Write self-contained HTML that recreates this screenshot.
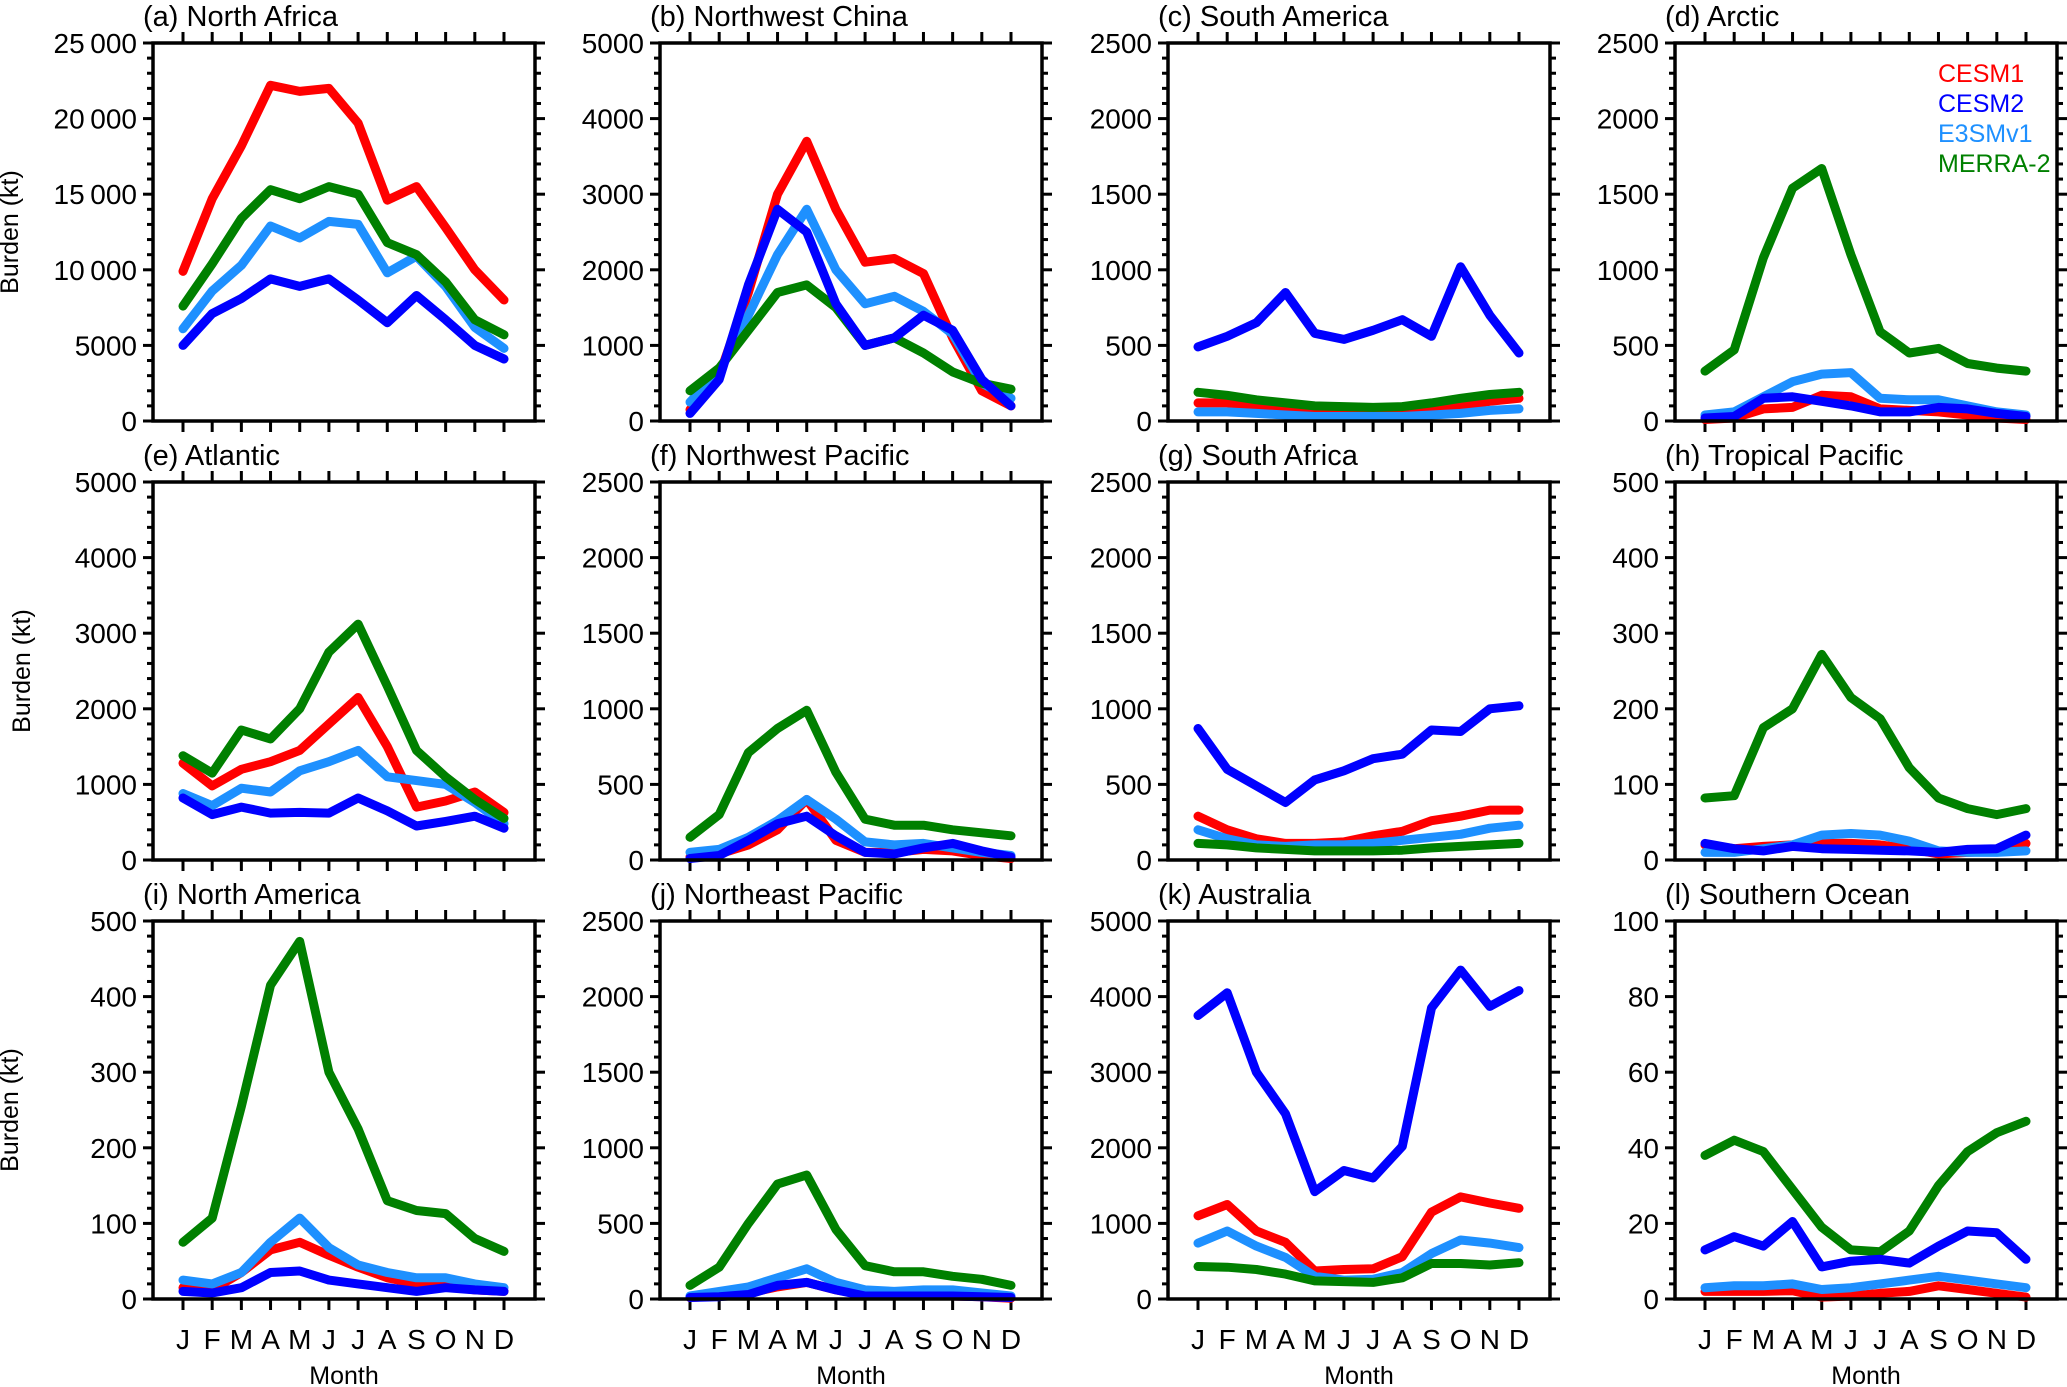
<!DOCTYPE html>
<html><head><meta charset="utf-8">
<style>
html,body{margin:0;padding:0;background:#fff;}
svg{display:block;font-family:"Liberation Sans",Arial,sans-serif;}
</style></head>
<body>
<svg id="chart" width="2067" height="1387" viewBox="0 0 2067 1387" xmlns="http://www.w3.org/2000/svg"></svg>
<script>
const months = ["J","F","M","A","M","J","J","A","S","O","N","D"];
const seriesNames = ["CESM1","CESM2","E3SMv1","MERRA-2"];
const seriesColors = ["#ff0000","#0000ff","#1e90ff","#008000"];
const panelTitles = ["(a) North Africa","(b) Northwest China","(c) South America","(d) Arctic","(e) Atlantic","(f) Northwest Pacific","(g) South Africa","(h) Tropical Pacific","(i) North America","(j) Northeast Pacific","(k) Australia","(l) Southern Ocean"];
const panelMax = [25000,5000,2500,2500,5000,2500,2500,500,500,2500,5000,100];
const panelStep = [5000,1000,500,500,1000,500,500,100,100,500,1000,20];
// values per panel: [CESM1, CESM2, E3SMv1, MERRA-2]
const cesm1 = [
 [9900,14700,18200,22200,21800,22000,19700,14600,15500,12800,10000,8000],
 [150,600,1700,3000,3700,2800,2100,2150,1950,1100,400,200],
 [120,120,100,90,70,60,60,60,80,100,130,150],
 [10,20,80,90,170,160,80,70,60,40,20,10],
 [1280,980,1200,1300,1450,1800,2150,1500,700,780,900,630],
 [20,40,100,200,400,130,50,50,70,60,30,10],
 [290,200,140,110,110,120,160,190,260,290,330,330],
 [20,15,18,20,22,22,20,15,8,10,12,22],
 [15,12,35,65,75,58,42,28,20,17,12,10],
 [10,20,40,80,110,60,30,20,20,20,15,5],
 [1100,1250,900,750,370,390,400,560,1150,1350,1270,1200],
 [2,2,2,2.2,0.5,0.8,1.5,2,3.5,2.5,1.5,0.5]
];
const cesm2 = [
 [5000,7100,8100,9400,8900,9400,8000,6500,8300,6700,5000,4100],
 [100,550,1800,2800,2500,1550,1000,1100,1400,1200,550,200],
 [490,560,650,850,580,540,600,670,560,1020,700,450],
 [20,30,150,160,130,100,60,60,90,80,50,30],
 [820,600,700,620,630,620,820,650,450,510,580,420],
 [10,30,130,240,290,160,50,40,80,110,60,20],
 [870,600,490,380,530,590,670,700,860,850,1000,1020],
 [22,15,12,18,15,14,13,12,10,14,15,33],
 [10,8,15,35,37,25,20,15,10,15,12,10],
 [10,15,30,90,110,60,20,20,20,20,15,10],
 [3750,4050,3000,2450,1420,1700,1600,2020,3850,4350,3870,4080],
 [13,16.5,14,20.5,8.5,10,10.5,9.5,14,18,17.5,10.5]
];
const e3sm = [
 [6100,8600,10300,12900,12100,13200,13000,9800,10900,8900,6200,4800],
 [250,650,1400,2200,2800,2000,1550,1650,1450,1150,500,300],
 [60,60,50,40,30,30,30,30,40,50,70,80],
 [40,60,160,260,310,320,150,140,140,100,60,40],
 [880,720,950,900,1180,1300,1450,1100,1050,1000,760,480],
 [50,70,150,260,400,270,120,100,110,80,50,30],
 [200,140,100,90,100,100,110,130,150,170,210,230],
 [10,10,15,20,33,35,33,25,12,10,10,12],
 [25,20,35,75,107,68,45,35,28,28,20,15],
 [20,50,80,140,200,110,60,50,60,60,40,20],
 [740,900,700,550,300,250,260,350,600,780,740,680],
 [3,3.5,3.5,4,2.5,3,4,5,6,5,4,3]
];
const merra = [
 [7600,10400,13400,15300,14700,15500,15000,11800,11000,9200,6700,5700],
 [400,700,1200,1700,1800,1500,1000,1100,900,650,500,420],
 [190,170,140,120,100,95,90,95,120,150,175,190],
 [330,470,1080,1540,1670,1100,590,450,480,380,350,330],
 [1380,1150,1720,1600,2000,2750,3120,2300,1450,1100,800,550],
 [150,300,710,870,990,580,270,230,230,200,180,160],
 [110,100,80,70,60,60,60,65,80,90,100,110],
 [82,85,175,200,272,215,187,122,82,68,60,68],
 [75,107,255,415,473,300,225,130,117,113,80,63],
 [90,210,500,760,820,460,220,180,180,150,130,90],
 [430,420,390,330,240,230,220,280,470,470,450,480],
 [38,42,39,29,19,13,12.5,18,30,39,44,47]
];

const NS = "http://www.w3.org/2000/svg";
const svg = document.getElementById("chart");
const colL = [153,660,1168,1675], colW = 382;
const rowT = [43,482,921], rowH = 378;
function mk(tag, attrs, parent){
  const e = document.createElementNS(NS, tag);
  for (const k in attrs) e.setAttribute(k, attrs[k]);
  (parent||svg).appendChild(e);
  return e;
}
function fmt(v, max){
  if (max >= 10000 && v >= 10000) { const s=String(v); return s.slice(0,2)+"\u2009"+s.slice(2); }
  return String(v);
}
const drawOrder = [0,2,3,1];
const allSeries = [cesm1, cesm2, e3sm, merra];

for (let p = 0; p < 12; p++) {
  const c = p % 4, r = Math.floor(p / 4);
  const L = colL[c], T = rowT[r], R = L + colW, B = T + rowH;
  const g = mk("g", {});
  
  
  const x = i => L + 30 + i * (colW - 61) / 11;
  const y = v => B - v / panelMax[p] * rowH;

  // ticks
  const minorStep = panelStep[p] / 5;
  for (let k = 0; k <= 25; k++) {
    const v = k * minorStep; if (v > panelMax[p] + 1e-9) break;
    const major = k % 5 === 0, len = major ? 10 : 6, yy = y(v);
    const t1 = mk("line", {x1:L-len, x2:L, y1:yy, y2:yy, stroke:"#000","stroke-width":3}, g);
    
    
    const t2 = mk("line", {x1:R, x2:R+len, y1:yy, y2:yy, stroke:"#000","stroke-width":3}, g);
    
    
    if (major) {
      const tl = mk("text", {x:L-16, y:yy+10, "font-size":28, "text-anchor":"end", fill:"#000"}, g);
      tl.textContent = fmt(v, panelMax[p]);
      
      
    }
  }
  for (let i = 0; i < 12; i++) {
    const xx = x(i);
    const tb = mk("line", {x1:xx, x2:xx, y1:B, y2:B+11, stroke:"#000","stroke-width":3}, g);
    
    
    const tt = mk("line", {x1:xx, x2:xx, y1:T-11, y2:T, stroke:"#000","stroke-width":3}, g);
    
    
    if (r === 2) {
      const ml = mk("text", {x:xx, y:B+50, "font-size":28, "text-anchor":"middle", fill:"#000"}, g);
      ml.textContent = months[i];
      
      
    }
  }
  // series
  for (const s of drawOrder) {
    const vals = allSeries[s][p];
    const pts = vals.map((v,i) => x(i).toFixed(1) + "," + y(v).toFixed(1)).join(" ");
    const pl = mk("polyline", {points:pts, fill:"none", stroke:seriesColors[s], "stroke-width":9, "stroke-linejoin":"round", "stroke-linecap":"round"}, g);
    
    
  }
  // frame
  const fr = mk("rect", {x:L, y:T, width:colW, height:rowH, fill:"none", stroke:"#000", "stroke-width":3.5}, g);
  
  
  // title
  const ti = mk("text", {x:L-10, y:T-17, "font-size":29, fill:"#000"}, g);
  ti.textContent = panelTitles[p];
  
  
  if (r === 2) {
    const xl = mk("text", {x:(L+R)/2, y:1384, "font-size":25, "text-anchor":"middle", fill:"#000"}, g);
    xl.textContent = "Month";
    
    
  }
  if (c === 0) {
    const cx = r === 1 ? 30 : 18, cy = (T+B)/2;
    const yl = mk("text", {x:cx, y:cy, "font-size":25, "text-anchor":"middle", transform:"rotate(-90 "+cx+" "+cy+")", fill:"#000"}, g);
    yl.textContent = "Burden (kt)";
    
    
  }
}
// legend
const legendY = [82,112,142,172];
for (let s = 0; s < 4; s++) {
  const le = mk("text", {x:1938, y:legendY[s], "font-size":25, fill:seriesColors[s]});
  le.textContent = seriesNames[s];
  
  
}
</script>
</body></html>
